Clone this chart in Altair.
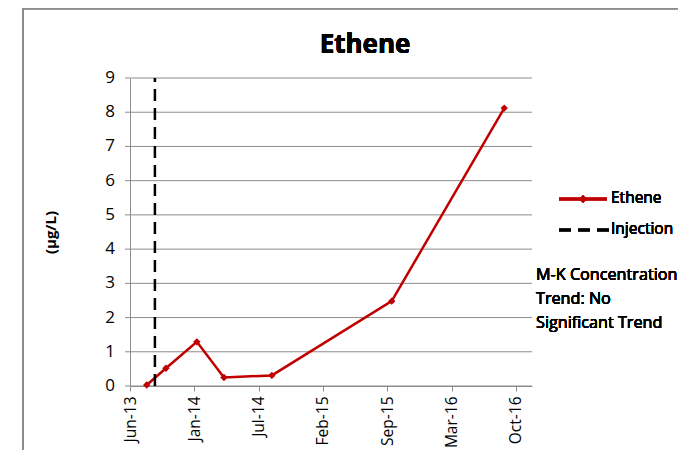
import altair as alt
import pandas as pd

# ---- data ----
sample_dates = ["2013-08-05", "2013-10-05", "2014-01-11", "2014-04-07",
                "2014-09-06", "2015-09-21", "2016-09-12"]
ethene_values = [0.03, 0.52, 1.29, 0.25, 0.31, 2.48, 8.12]

injection_dates = ["2013-08-31"]
injection_low = [0]
injection_high = [9]

tick_dates = [(2013, 6, 13), (2014, 1, 3), (2014, 7, 26), (2015, 2, 15),
              (2015, 9, 7), (2016, 3, 29), (2016, 10, 19)]
x_domain = [(2013, 6, 13), (2016, 12, 9)]
y_ticks = [0, 1, 2, 3, 4, 5, 6, 7, 8, 9]

FONT = "Open Sans"
GRID = "#8c8c8c"
RED = "#c00000"

def dt(t):
    return alt.DateTime(year=t[0], month=t[1], date=t[2], utc=True)

df = pd.DataFrame({"date": sample_dates, "value": ethene_values})
inj = pd.DataFrame({"date": injection_dates, "value": injection_low, "hi": injection_high})
grid_df = pd.DataFrame({"value": y_ticks})

x_scale = alt.Scale(type="utc", domain=[dt(x_domain[0]), dt(x_domain[1])])
y_scale = alt.Scale(domain=[0, 9], nice=False, zero=True)

x_axis = alt.Axis(
    values=[dt(t) for t in tick_dates],
    labelExpr="utcFormat(datum.value, '%b-%y')",
    labelAngle=270, labelFontSize=15.5, labelFont=FONT, labelColor="#000",
    labelOverlap=False, labelPadding=5, tickSize=5, tickColor=GRID,
    domainColor=GRID, grid=False, title=None,
)
y_axis = alt.Axis(
    labels=False, ticks=False, grid=False, domainColor=GRID,
    title="(µg/L)", titleFont=FONT, titleFontSize=15, titleFontWeight="bold",
    titleColor="#000", titleAngle=270, titleX=-80, titleY=154,
    titleAlign="center", titleBaseline="middle",
)

def X(field="date:T"):
    return alt.X(field, scale=x_scale, axis=x_axis)

def Y(field="value:Q"):
    return alt.Y(field, scale=y_scale, axis=y_axis)

# gridlines (with their outward tick) and y labels, positioned by the y scale
grid = alt.Chart(grid_df).mark_rule(color=GRID, strokeWidth=1).encode(
    y=Y(), x=alt.value(-5), x2=alt.value(402))
ylabels = alt.Chart(grid_df).mark_text(
    font=FONT, fontSize=17, color="#000", align="right", baseline="middle").encode(
    y=Y(), text=alt.Text("value:Q", format="d"), x=alt.value(-15))

line = alt.Chart(df).mark_line(color=RED, strokeWidth=2.5).encode(x=X(), y=Y())
pts = alt.Chart(df).mark_point(shape="diamond", filled=True, size=55, color=RED, opacity=1).encode(
    x=X(), y=Y())

injection = alt.Chart(inj).mark_rule(color="#000", strokeWidth=2.5, strokeDash=[12, 7]).encode(
    x=X(), y=Y(), y2="hi:Q")

# border of the chart area
border_left = alt.Chart(df).mark_rule(color=GRID, strokeWidth=1.5).encode(
    x=alt.value(-107), y=alt.value(-69.5), y2=alt.value(400))
border_top = alt.Chart(df).mark_rule(color=GRID, strokeWidth=1.5).encode(
    x=alt.value(-107), x2=alt.value(700), y=alt.value(-69.5))

title = alt.Chart(df).mark_text(
    text="Ethene", font=FONT, fontSize=26, fontWeight="bold", color="#000",
    align="center", baseline="alphabetic").encode(x=alt.value(235), y=alt.value(-25))

TXT = dict(font=FONT, fontSize=15.5, fontWeight="normal", color="#000", align="left")

# legend
leg_line = alt.Chart(df).mark_rule(color=RED, strokeWidth=2.5).encode(
    x=alt.value(429), x2=alt.value(477), y=alt.value(121))
leg_pt = alt.Chart(df).mark_point(shape="diamond", filled=True, size=55, color=RED, opacity=1).encode(
    x=alt.value(453), y=alt.value(121))
leg_txt1 = alt.Chart(df).mark_text(text="Ethene", baseline="middle", **TXT).encode(
    x=alt.value(481), y=alt.value(120))
leg_dash = alt.Chart(df).mark_rule(color="#000", strokeWidth=2.5, strokeDash=[12, 7]).encode(
    x=alt.value(429), x2=alt.value(479), y=alt.value(152))
leg_txt2 = alt.Chart(df).mark_text(text="Injection", baseline="middle", **TXT).encode(
    x=alt.value(481), y=alt.value(151))

note = alt.Chart(df).mark_text(
    text=["M-K Concentration", "Trend: No", "Significant Trend"],
    baseline="alphabetic", lineHeight=24, font=FONT, fontSize=16.2, color="#000",
    align="left").encode(x=alt.value(406), y=alt.value(202))

chart = alt.layer(
    grid, ylabels, line, pts, injection, border_left, border_top, title,
    leg_line, leg_pt, leg_txt1, leg_dash, leg_txt2, note,
).properties(
    width=402, height=308,
    autosize=alt.AutoSizeParams(type="none"),
    padding={"left": 122, "top": 70, "right": 146, "bottom": 64},
    background="white",
).configure_view(stroke=None)

chart.save("out.html", embed_options={"renderer": "svg", "actions": False})
